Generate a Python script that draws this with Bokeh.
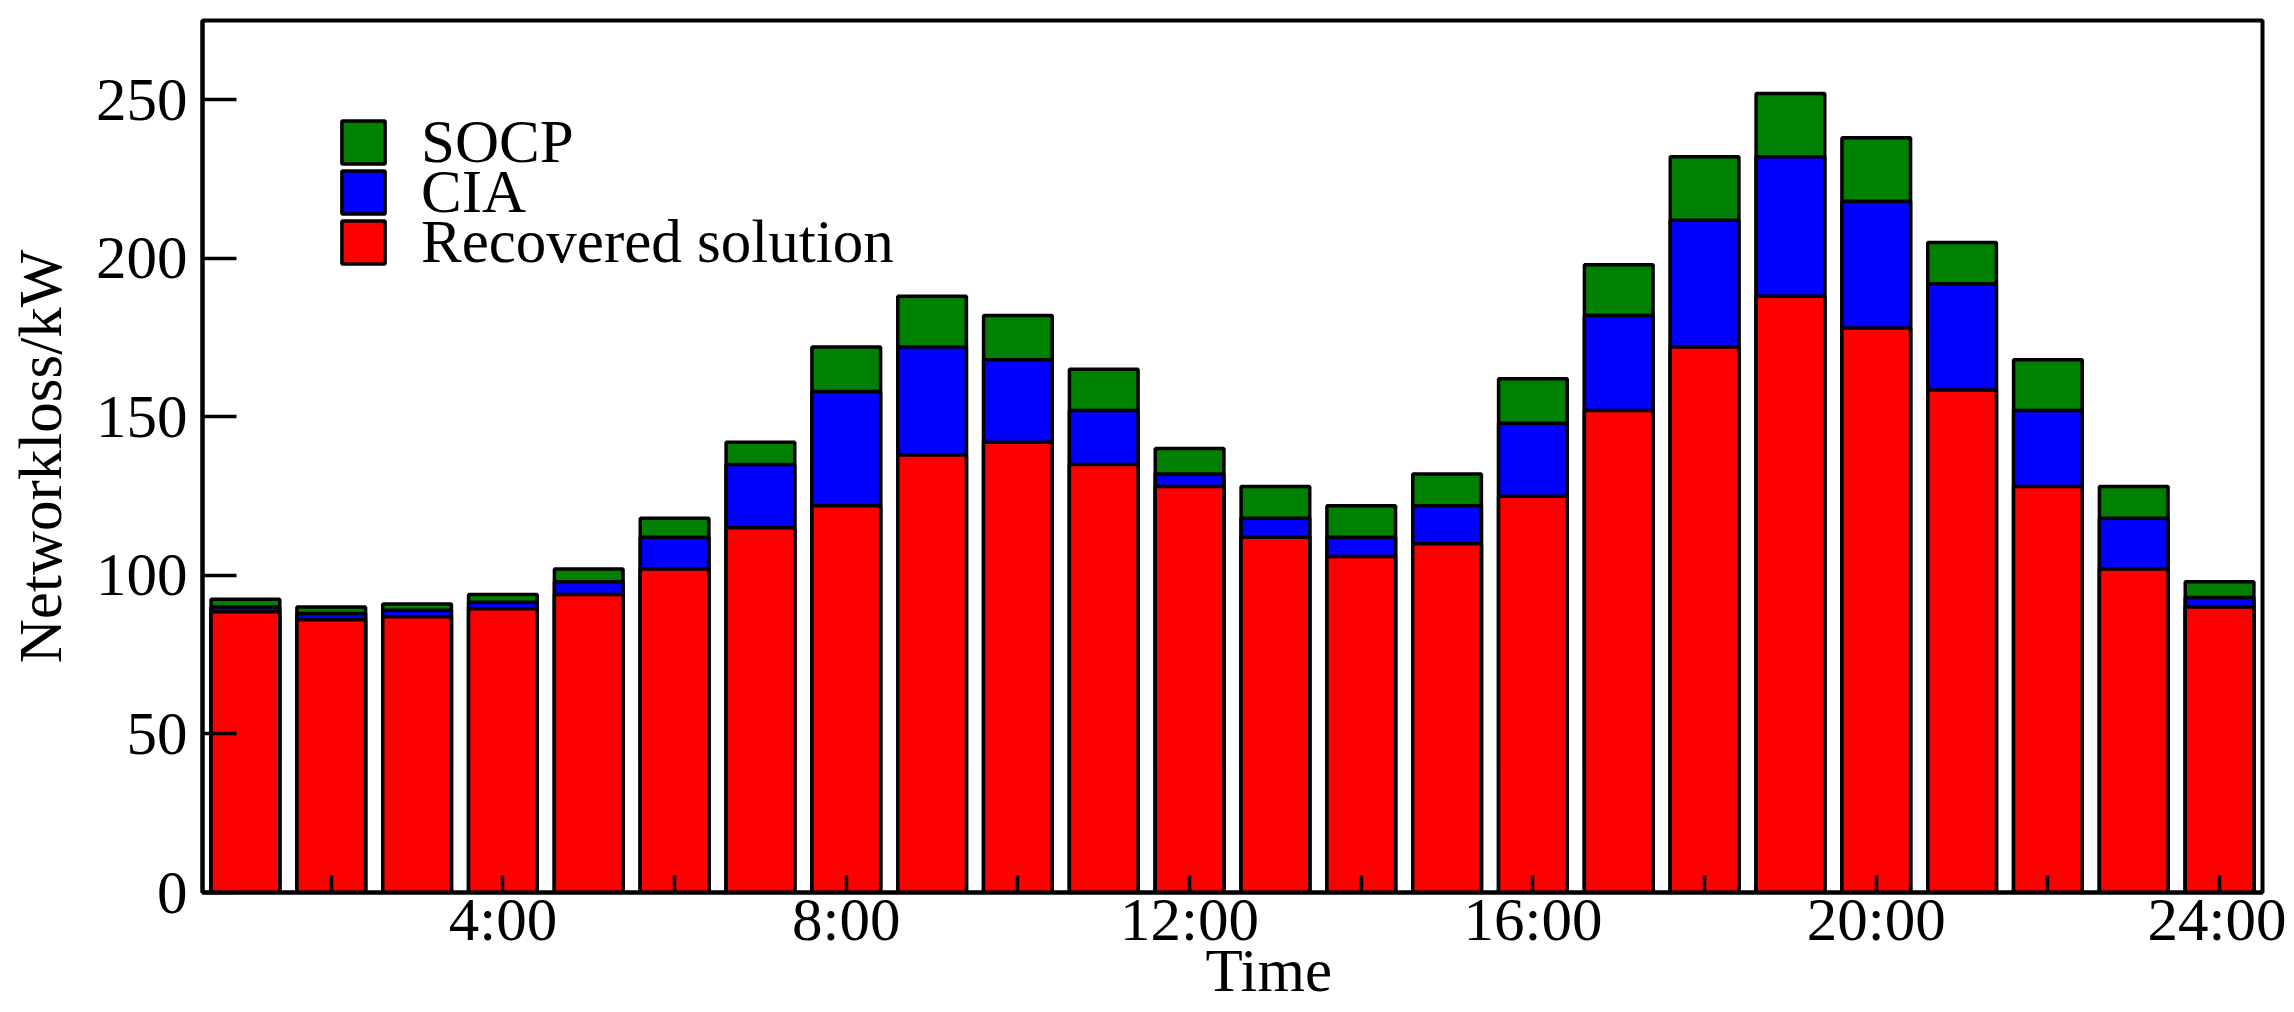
from bokeh.plotting import figure
from bokeh.models import Range1d, FixedTicker, Legend, LegendItem, Title
from bokeh.embed import file_html
from bokeh.resources import INLINE

hours = list(range(1, 25))
recovered = [88.5, 86, 87, 89.5, 94, 102, 115, 122, 138, 142, 135, 128,
             112, 106, 110, 125, 152, 172, 188, 178, 158.5, 128, 102, 90]
cia = [90, 88, 89, 91.5, 98, 112, 135, 158, 172, 168, 152, 132,
       118, 112, 122, 148, 182, 212, 232, 218, 192, 152, 118, 93]
socp = [92.5, 90, 91, 94, 102, 118, 142, 172, 188, 182, 165, 140,
        128, 122, 132, 162, 198, 232, 252, 238, 205, 168, 128, 98]
x_ticks = [2, 4, 6, 8, 10, 12, 14, 16, 18, 20, 22, 24]
x_tick_labels = {4: "4:00", 8: "8:00", 12: "12:00", 16: "16:00", 20: "20:00", 24: "24:00"}
y_ticks = [0, 50, 100, 150, 200, 250]

FONT = "Liberation Serif"
FS = "61px"

p = figure(width=2286, height=1004, output_backend="svg", toolbar_location=None,
           x_range=Range1d(0.5, 24.5), y_range=Range1d(0, 275),
           min_border_left=202, min_border_right=24, min_border_top=20,
           min_border_bottom=112)

r_socp = p.vbar(x=hours, top=socp, bottom=0, width=0.8, fill_color="#008000",
                line_color="black", line_width=3.5)
r_cia = p.vbar(x=hours, top=cia, bottom=0, width=0.8, fill_color="#0000ff",
               line_color="black", line_width=3.5)
r_rec = p.vbar(x=hours, top=recovered, bottom=0, width=0.8, fill_color="#ff0000",
               line_color="black", line_width=3.5)

p.xgrid.visible = False
p.ygrid.visible = False
p.outline_line_color = "black"
p.outline_line_width = 4
p.outline_line_alpha = 1

p.xaxis.ticker = FixedTicker(ticks=x_ticks, minor_ticks=[])
p.xaxis.major_label_overrides = {t: x_tick_labels.get(t, "") for t in x_ticks}
p.yaxis.ticker = FixedTicker(ticks=y_ticks, minor_ticks=[])

for ax in (p.xaxis[0], p.yaxis[0]):
    ax.axis_line_width = 4
    ax.axis_line_color = "black"
    ax.major_tick_line_width = 3.5
    ax.major_tick_line_color = "black"
    ax.major_tick_out = 0
    ax.minor_tick_in = 0
    ax.minor_tick_out = 0
    ax.major_label_text_font = FONT
    ax.major_label_text_font_size = FS
    ax.major_label_text_color = "black"
    ax.axis_label_text_font = FONT
    ax.axis_label_text_font_size = FS
    ax.axis_label_text_font_style = "normal"
    ax.axis_label_text_color = "black"

p.xaxis.major_tick_in = 17
p.yaxis.major_tick_in = 34
p.xaxis.major_label_standoff = -7
p.yaxis.major_label_standoff = 15
p.yaxis.axis_label_standoff = 19
p.yaxis.axis_label = "Networkloss/kW"

x_title = Title(text="Time", align="left", offset=1003, vertical_align="top",
                standoff=-37, text_font=FONT, text_font_size=FS,
                text_font_style="normal", text_color="black")
p.add_layout(x_title, "below")

names = ["SOCP", "CIA", "Recovered solution"]
rends = [r_socp, r_cia, r_rec]
for i, (nm, rr) in enumerate(zip(names, rends)):
    lg = Legend(items=[LegendItem(label=nm, renderers=[rr])],
                location=(134, 715 - 50 * i),
                glyph_width=54, glyph_height=54, label_standoff=31,
                label_text_font=FONT, label_text_font_size=FS,
                label_text_color="black",
                border_line_alpha=0, background_fill_alpha=0,
                padding=0, margin=0, spacing=0)
    p.add_layout(lg, "center")

open("out.html", "w").write(file_html(p, INLINE))
